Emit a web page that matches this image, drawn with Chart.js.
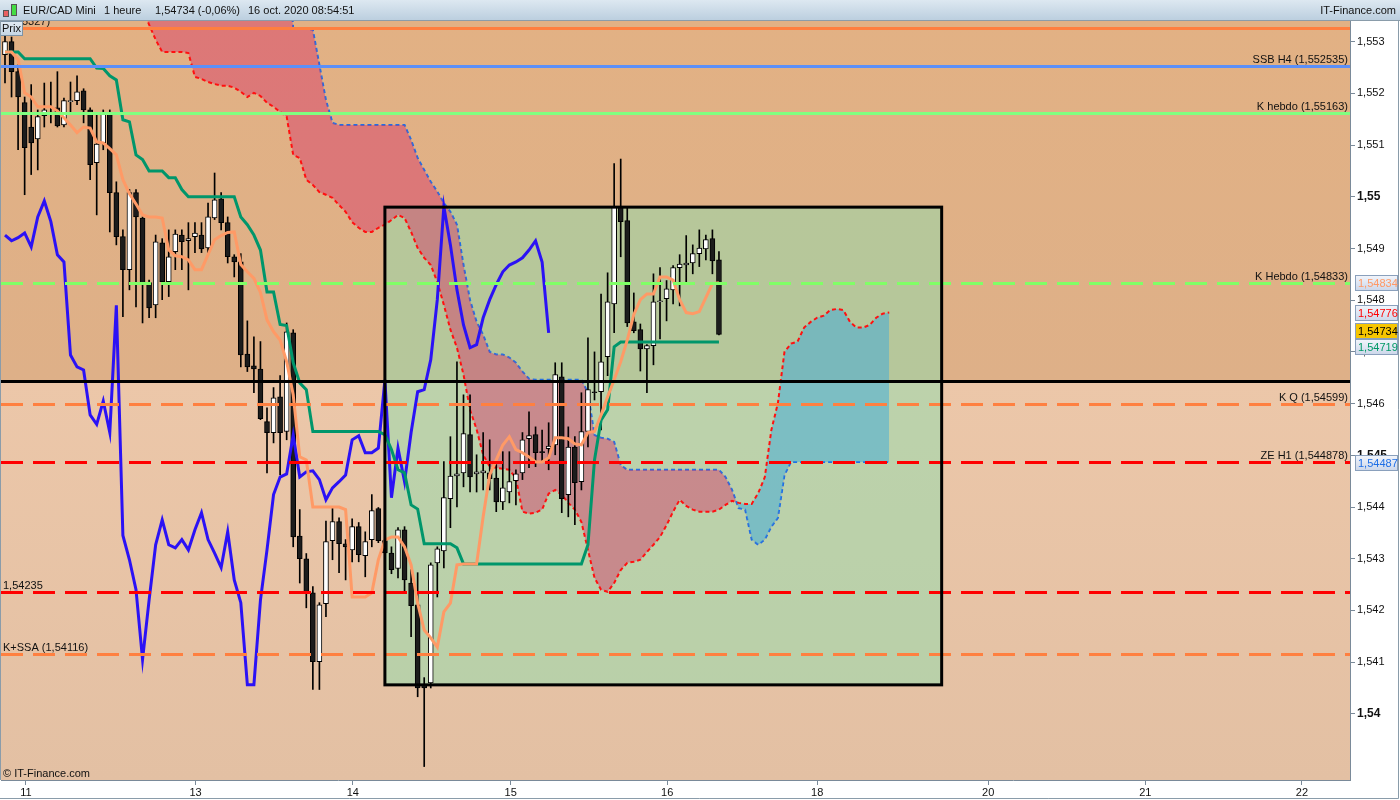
<!DOCTYPE html>
<html>
<head>
<meta charset="utf-8">
<title>EUR/CAD Mini 1 heure</title>
<script src="https://cdn.jsdelivr.net/npm/chart.js@4.4.0/dist/chart.umd.min.js"></script>
<style>
  html, body { margin: 0; padding: 0; background: #fff; }
  #wrap { width: 1400px; height: 800px; }
</style>
</head>
<body>
<div id="wrap"><canvas id="graphe" width="1400" height="800"></canvas></div>
<script>
// bougies horaires, index 0 = 11 oct. soir, index 109 = 16 oct. 08h
const opens = [
  1.55275, 1.55300, 1.55242, 1.55182, 1.55135, 1.55112, 1.55157, 1.55164, 1.55172, 1.55139,
  1.55184, 1.55186, 1.55205, 1.55168, 1.55066, 1.55104, 1.55162, 1.55008, 1.54923, 1.54859,
  1.55008, 1.54959, 1.54834, 1.54791, 1.54911, 1.54836, 1.54894, 1.54926, 1.54915, 1.54923,
  1.54926, 1.54901, 1.54959, 1.54996, 1.54950, 1.54884, 1.54874, 1.54696, 1.54673, 1.54667,
  1.54565, 1.54544, 1.54613, 1.54546, 1.54737, 1.54344, 1.54300, 1.54234, 1.54101, 1.54213,
  1.54335, 1.54372, 1.54329, 1.54317, 1.54362, 1.54306, 1.54337, 1.54397, 1.54335, 1.54311,
  1.54281, 1.54356, 1.54253, 1.54211, 1.54056, 1.54060, 1.54292, 1.54315, 1.54416, 1.54460,
  1.54466, 1.54540, 1.54464, 1.54466, 1.54466, 1.54456, 1.54410, 1.54429, 1.54451, 1.54466,
  1.54532, 1.54540, 1.54507, 1.54513, 1.54520, 1.54652, 1.54424, 1.54516, 1.54449, 1.54546,
  1.54623, 1.54623, 1.54691, 1.54793, 1.54981, 1.54954, 1.54758, 1.54743, 1.54706, 1.54712,
  1.54797, 1.54803, 1.54820, 1.54863, 1.54868, 1.54872, 1.54890, 1.54899, 1.54919, 1.54878
];
const highs = [
  1.55317, 1.55309, 1.55255, 1.55193, 1.55217, 1.55168, 1.55220, 1.55222, 1.55242, 1.55191,
  1.55222, 1.55234, 1.55209, 1.55172, 1.55162, 1.55168, 1.55168, 1.55029, 1.54936, 1.55014,
  1.55014, 1.54961, 1.54839, 1.54926, 1.54919, 1.54936, 1.54936, 1.54936, 1.54950, 1.54950,
  1.54950, 1.54988, 1.55046, 1.55008, 1.54961, 1.54888, 1.54890, 1.54760, 1.54729, 1.54720,
  1.54592, 1.54631, 1.54654, 1.54756, 1.54743, 1.54395, 1.54310, 1.54246, 1.54215, 1.54373,
  1.54399, 1.54379, 1.54337, 1.54377, 1.54370, 1.54352, 1.54424, 1.54399, 1.54344, 1.54323,
  1.54360, 1.54362, 1.54279, 1.54273, 1.54070, 1.54292, 1.54323, 1.54488, 1.54536, 1.54681,
  1.54617, 1.54617, 1.54501, 1.54544, 1.54530, 1.54482, 1.54507, 1.54507, 1.54472, 1.54544,
  1.54584, 1.54555, 1.54549, 1.54563, 1.54679, 1.54679, 1.54555, 1.54536, 1.54621, 1.54727,
  1.54700, 1.54812, 1.54853, 1.55064, 1.55073, 1.54979, 1.54814, 1.54754, 1.54714, 1.54851,
  1.54863, 1.54838, 1.54867, 1.54888, 1.54925, 1.54907, 1.54936, 1.54926, 1.54936, 1.54894
];
const lows = [
  1.55220, 1.55193, 1.55091, 1.55004, 1.55043, 1.55052, 1.55135, 1.55143, 1.55135, 1.55135,
  1.55162, 1.55178, 1.55143, 1.55033, 1.54965, 1.55091, 1.54932, 1.54907, 1.54768, 1.54820,
  1.54787, 1.54756, 1.54766, 1.54766, 1.54801, 1.54807, 1.54859, 1.54859, 1.54820, 1.54892,
  1.54892, 1.54892, 1.54956, 1.54936, 1.54872, 1.54845, 1.54671, 1.54662, 1.54621, 1.54569,
  1.54466, 1.54524, 1.54462, 1.54530, 1.54323, 1.54253, 1.54205, 1.54047, 1.54047, 1.54188,
  1.54298, 1.54273, 1.54259, 1.54294, 1.54294, 1.54265, 1.54323, 1.54331, 1.54306, 1.54271,
  1.54263, 1.54234, 1.54149, 1.54033, 1.53898, 1.54050, 1.54226, 1.54282, 1.54360, 1.54400,
  1.54439, 1.54429, 1.54429, 1.54433, 1.54433, 1.54391, 1.54395, 1.54408, 1.54404, 1.54453,
  1.54476, 1.54478, 1.54486, 1.54472, 1.54501, 1.54389, 1.54381, 1.54366, 1.54433, 1.54516,
  1.54607, 1.54549, 1.54654, 1.54737, 1.54884, 1.54749, 1.54737, 1.54663, 1.54621, 1.54675,
  1.54725, 1.54760, 1.54793, 1.54789, 1.54834, 1.54851, 1.54865, 1.54878, 1.54851, 1.54733
];
const closes = [
  1.55300, 1.55242, 1.55193, 1.55095, 1.55104, 1.55155, 1.55168, 1.55161, 1.55137, 1.55186,
  1.55186, 1.55203, 1.55168, 1.55062, 1.55102, 1.55161, 1.55008, 1.54923, 1.54859, 1.55008,
  1.54961, 1.54834, 1.54785, 1.54913, 1.54836, 1.54884, 1.54928, 1.54913, 1.54919, 1.54930,
  1.54899, 1.54961, 1.54994, 1.54950, 1.54884, 1.54874, 1.54694, 1.54671, 1.54667, 1.54571,
  1.54544, 1.54611, 1.54544, 1.54739, 1.54342, 1.54300, 1.54234, 1.54101, 1.54211, 1.54333,
  1.54372, 1.54329, 1.54323, 1.54362, 1.54308, 1.54333, 1.54393, 1.54335, 1.54311, 1.54279,
  1.54356, 1.54259, 1.54209, 1.54050, 1.54050, 1.54288, 1.54319, 1.54418, 1.54460, 1.54464,
  1.54542, 1.54458, 1.54468, 1.54470, 1.54455, 1.54410, 1.54437, 1.54449, 1.54464, 1.54530,
  1.54538, 1.54505, 1.54505, 1.54518, 1.54656, 1.54416, 1.54516, 1.54447, 1.54546, 1.54627,
  1.54621, 1.54681, 1.54797, 1.54981, 1.54952, 1.54756, 1.54741, 1.54706, 1.54712, 1.54797,
  1.54797, 1.54822, 1.54863, 1.54870, 1.54872, 1.54890, 1.54901, 1.54917, 1.54876, 1.54734
];

// Ichimoku
const kijun = [
  1.55280, 1.55280, 1.55280, 1.55267, 1.55267, 1.55267, 1.55267, 1.55267, 1.55267, 1.55267,
  1.55267, 1.55267, 1.55267, 1.55267, 1.55249, 1.55248, 1.55234, 1.55226, 1.55149, 1.55145,
  1.55081, 1.55072, 1.55050, 1.55050, 1.55050, 1.55037, 1.55037, 1.55014, 1.55000, 1.55000,
  1.55000, 1.55000, 1.55000, 1.55000, 1.55000, 1.55000, 1.54961, 1.54946, 1.54926, 1.54897,
  1.54816, 1.54816, 1.54753, 1.54751, 1.54679, 1.54640, 1.54627, 1.54546, 1.54546, 1.54546,
  1.54546, 1.54546, 1.54546, 1.54546, 1.54546, 1.54546, 1.54546, 1.54546, 1.54540, 1.54511,
  1.54472, 1.54466, 1.54404, 1.54396, 1.54329, 1.54329, 1.54329, 1.54329, 1.54329, 1.54321,
  1.54290, 1.54290, 1.54290, 1.54290, 1.54290, 1.54290, 1.54290, 1.54290, 1.54290, 1.54290,
  1.54290, 1.54290, 1.54290, 1.54290, 1.54290, 1.54290, 1.54290, 1.54290, 1.54290, 1.54327,
  1.54491, 1.54568, 1.54588, 1.54710, 1.54719, 1.54719, 1.54719, 1.54719, 1.54719, 1.54719,
  1.54719, 1.54719, 1.54719, 1.54719, 1.54719, 1.54719, 1.54719, 1.54719, 1.54719, 1.54719
];
const tenkan = [
  1.55280, 1.55280, 1.55265, 1.55201, 1.55193, 1.55174, 1.55174, 1.55174, 1.55166, 1.55153,
  1.55139, 1.55124, 1.55135, 1.55133, 1.55106, 1.55104, 1.55093, 1.55081, 1.55033, 1.55006,
  1.54986, 1.54965, 1.54961, 1.54961, 1.54959, 1.54897, 1.54886, 1.54884, 1.54878, 1.54859,
  1.54859, 1.54888, 1.54917, 1.54925, 1.54931, 1.54932, 1.54869, 1.54855, 1.54842, 1.54815,
  1.54762, 1.54739, 1.54723, 1.54681, 1.54617, 1.54497, 1.54491, 1.54400, 1.54400, 1.54400,
  1.54400, 1.54400, 1.54395, 1.54226, 1.54226, 1.54226, 1.54234, 1.54298, 1.54336, 1.54342,
  1.54342, 1.54323, 1.54288, 1.54214, 1.54162, 1.54147, 1.54129, 1.54197, 1.54214, 1.54288,
  1.54290, 1.54290, 1.54290, 1.54381, 1.54462, 1.54491, 1.54520, 1.54536, 1.54511, 1.54505,
  1.54497, 1.54487, 1.54487, 1.54495, 1.54534, 1.54534, 1.54532, 1.54522, 1.54520, 1.54544,
  1.54546, 1.54578, 1.54613, 1.54646, 1.54681, 1.54723, 1.54772, 1.54801, 1.54812, 1.54812,
  1.54845, 1.54845, 1.54839, 1.54801, 1.54776, 1.54774, 1.54778, 1.54805, 1.54832, 1.54834
];
const chikou = [
  1.54926, 1.54915, 1.54921, 1.54930, 1.54903, 1.54961, 1.54992, 1.54952, 1.54888, 1.54874,
  1.54694, 1.54671, 1.54665, 1.54578, 1.54560, 1.54605, 1.54544, 1.54790, 1.54345, 1.54298,
  1.54240, 1.54105, 1.54220, 1.54327, 1.54375, 1.54327, 1.54321, 1.54337, 1.54317, 1.54356,
  1.54389, 1.54337, 1.54311, 1.54283, 1.54352, 1.54259, 1.54215, 1.54056, 1.54056, 1.54220,
  1.54317, 1.54424, 1.54458, 1.54464, 1.54539, 1.54458, 1.54468, 1.54470, 1.54453, 1.54414,
  1.54437, 1.54449, 1.54462, 1.54530, 1.54538, 1.54505, 1.54505, 1.54514, 1.54646, 1.54418,
  1.54514, 1.54449, 1.54544, 1.54623, 1.54627, 1.54685, 1.54801, 1.54981, 1.54907, 1.54820,
  1.54752, 1.54708, 1.54714, 1.54766, 1.54801, 1.54830, 1.54855, 1.54868, 1.54874, 1.54882,
  1.54897, 1.54915, 1.54874, 1.54737
];
// nuage : commence a l'index 21, projete jusqu'a l'index 135
const cloudStart = 21;
const ssa = [
  1.55362, 1.55333, 1.55304, 1.55280, 1.55280, 1.55280, 1.55280, 1.55278, 1.55232, 1.55228,
  1.55222, 1.55218, 1.55215, 1.55215, 1.55211, 1.55203, 1.55193, 1.55201, 1.55195, 1.55182,
  1.55174, 1.55164, 1.55155, 1.55081, 1.55075, 1.55033, 1.55023, 1.55009, 1.55004, 1.54998,
  1.54984, 1.54971, 1.54951, 1.54940, 1.54932, 1.54932, 1.54940, 1.54946, 1.54955, 1.54965,
  1.54959, 1.54932, 1.54901, 1.54882, 1.54868, 1.54835, 1.54791, 1.54743, 1.54708, 1.54656,
  1.54588, 1.54550, 1.54501, 1.54478, 1.54476, 1.54474, 1.54472, 1.54456, 1.54391, 1.54387,
  1.54389, 1.54395, 1.54426, 1.54433, 1.54424, 1.54408, 1.54395, 1.54371, 1.54317, 1.54263,
  1.54240, 1.54236, 1.54253, 1.54278, 1.54292, 1.54294, 1.54298, 1.54313, 1.54327, 1.54342,
  1.54365, 1.54391, 1.54414, 1.54402, 1.54395, 1.54391, 1.54391, 1.54391, 1.54395, 1.54404,
  1.54412, 1.54408, 1.54406, 1.54406, 1.54427, 1.54458, 1.54549, 1.54601, 1.54700, 1.54716,
  1.54720, 1.54747, 1.54758, 1.54766, 1.54770, 1.54781, 1.54783, 1.54781, 1.54758, 1.54747,
  1.54747, 1.54752, 1.54766, 1.54774, 1.54776
];
const ssb = [
  1.55500, 1.55500, 1.55500, 1.55500, 1.55500, 1.55500, 1.55500, 1.55500, 1.55500, 1.55500,
  1.55500, 1.55500, 1.55500, 1.55500, 1.55500, 1.55500, 1.55500, 1.55500, 1.55500, 1.55500,
  1.55500, 1.55500, 1.55500, 1.55325, 1.55325, 1.55325, 1.55323, 1.55255, 1.55187, 1.55143,
  1.55139, 1.55139, 1.55139, 1.55139, 1.55139, 1.55139, 1.55139, 1.55139, 1.55139, 1.55139,
  1.55139, 1.55110, 1.55075, 1.55052, 1.55029, 1.55010, 1.54988, 1.54971, 1.54946, 1.54868,
  1.54800, 1.54758, 1.54733, 1.54700, 1.54695, 1.54695, 1.54689, 1.54679, 1.54662, 1.54648,
  1.54646, 1.54646, 1.54646, 1.54646, 1.54646, 1.54646, 1.54646, 1.54646, 1.54621, 1.54539,
  1.54534, 1.54532, 1.54526, 1.54481, 1.54472, 1.54472, 1.54472, 1.54472, 1.54472, 1.54472,
  1.54472, 1.54472, 1.54472, 1.54472, 1.54472, 1.54472, 1.54472, 1.54472, 1.54472, 1.54458,
  1.54433, 1.54398, 1.54395, 1.54337, 1.54327, 1.54337, 1.54362, 1.54379, 1.54462, 1.54487,
  1.54487, 1.54487, 1.54487, 1.54487, 1.54487, 1.54487, 1.54487, 1.54487, 1.54487, 1.54487,
  1.54487, 1.54487, 1.54487, 1.54487, 1.54487
];

// axes
const dayTicks = [3.2, 29.1, 53.1, 77.2, 101.1, 124, 150.1, 174.1, 198];
const dayLabels = ['11', '13', '14', '15', '16', '18', '20', '21', '22'];
const priceTicks = [1.540, 1.541, 1.542, 1.543, 1.544, 1.545, 1.546, 1.547, 1.548, 1.549, 1.550, 1.551, 1.552, 1.553];

// niveaux horizontaux
const levelValues = [1.55327, 1.552535, 1.55163, 1.54833, 1.54644, 1.54599, 1.544878, 1.54235, 1.54116];
const levelNames = ['(1,55327)', 'SSB H4 (1,552535)', 'K hebdo (1,55163)', 'K Hebdo (1,54833)', '', 'K Q (1,54599)', 'ZE H1 (1,544878)', '1,54235', 'K+SSA (1,54116)'];
const levelColors = ['#ff7f3f', '#5b8ff9', '#80ff80', '#80ff66', '#000000', '#ff8040', '#ff0000', '#ff0000', '#ff8040'];
const levelDashed = [false, false, false, true, false, true, true, true, true];
const levelLeft = [true, false, false, false, false, false, false, true, true];
const splitLevel = 1.54644;

// rectangle de zone
const boxX = [58, 143];
const boxY = [1.54056, 1.5498];

// etiquettes de prix a droite
const tagValues = [1.54834, 1.54776, 1.54734, 1.54719, 1.54487];
const tagColors = ['#ff9966', '#ff0000', '#000000', '#009966', '#1e6fe6'];

const xMin = -0.61, xMax = 205.34;
const yMin = 1.53872, yMax = 1.5534;
const police = '"Liberation Sans", Arial, sans-serif';

function pts(arr, start) {
  return arr.map((v, i) => ({ x: start + i, y: v }));
}
function virgule(v, d) {
  return v.toFixed(d).replace('.', ',');
}

const bodies = opens.map((o, i) => ({ x: i, y: [o, closes[i]] }));
const wicks = lows.map((l, i) => ({ x: i, y: [l, highs[i]] }));
const bodyColors = opens.map((o, i) => closes[i] >= o ? '#ffffff' : '#1c1c1c');

const decor = {
  id: 'decor',
  beforeDraw(chart) {
    const c = chart.ctx;
    c.save();
    c.fillStyle = '#ffffff';
    c.fillRect(0, 0, chart.width, chart.height);
    c.restore();
  },
  beforeDatasetsDraw(chart) {
    const c = chart.ctx, a = chart.chartArea, x = chart.scales.x, y = chart.scales.y;
    c.save();
    const ys = y.getPixelForValue(splitLevel);
    let g = c.createLinearGradient(0, a.top, 0, ys);
    g.addColorStop(0, '#e2b184');
    g.addColorStop(1, '#deb088');
    c.fillStyle = g;
    c.fillRect(a.left, a.top, a.right - a.left, ys - a.top);
    g = c.createLinearGradient(0, ys, 0, a.bottom);
    g.addColorStop(0, '#ecc7a9');
    g.addColorStop(1, '#e3c0a3');
    c.fillStyle = g;
    c.fillRect(a.left, ys, a.right - a.left, a.bottom - ys);

    const x0 = x.getPixelForValue(boxX[0]), x1 = x.getPixelForValue(boxX[1]);
    const y0 = y.getPixelForValue(boxY[1]), y1 = y.getPixelForValue(boxY[0]);
    c.fillStyle = 'rgba(141,222,173,0.5)';
    c.fillRect(x0, y0, x1 - x0, y1 - y0);
    c.restore();
  },
  afterDatasetsDraw(chart) {
    const c = chart.ctx, a = chart.chartArea, x = chart.scales.x, y = chart.scales.y;
    c.save();
    c.beginPath();
    c.rect(a.left, a.top, a.right - a.left, a.bottom - a.top);
    c.clip();

    for (let k = 0; k < levelValues.length; k++) {
      const py = Math.round(y.getPixelForValue(levelValues[k])) + 0.5;
      c.strokeStyle = levelColors[k];
      c.lineWidth = 3;
      c.setLineDash(levelDashed[k] ? [22, 10] : []);
      c.beginPath();
      c.moveTo(a.left, py);
      c.lineTo(a.right, py);
      c.stroke();
    }
    c.setLineDash([]);

    // bordure du rectangle
    const x0 = x.getPixelForValue(boxX[0]), x1 = x.getPixelForValue(boxX[1]);
    const y0 = y.getPixelForValue(boxY[1]), y1 = y.getPixelForValue(boxY[0]);
    c.strokeStyle = '#000';
    c.lineWidth = 3;
    c.strokeRect(x0, y0, x1 - x0, y1 - y0);

    c.font = '11px ' + police;
    c.fillStyle = '#111';
    c.textBaseline = 'alphabetic';
    for (let k = 0; k < levelValues.length; k++) {
      if (!levelNames[k]) continue;
      const py = y.getPixelForValue(levelValues[k]) - 3;
      if (levelLeft[k]) {
        c.textAlign = 'left';
        c.fillText(levelNames[k], a.left + 2, py);
      } else {
        c.textAlign = 'right';
        c.fillText(levelNames[k], a.right - 2, py);
      }
    }
    c.textAlign = 'left';
    c.fillText('\u00a9 IT-Finance.com', a.left + 2, a.bottom - 3);
    c.restore();
  },
  afterDraw(chart) {
    const c = chart.ctx, a = chart.chartArea, y = chart.scales.y;
    c.save();
    // bandeau du haut
    let g = c.createLinearGradient(0, 0, 0, 20);
    g.addColorStop(0, '#dde8f1');
    g.addColorStop(1, '#bccfdf');
    c.fillStyle = g;
    c.fillRect(0, 0, chart.width, 20);
    c.strokeStyle = '#8a9caa';
    c.lineWidth = 1;
    c.beginPath();
    c.moveTo(0, 20.5); c.lineTo(chart.width, 20.5);
    c.stroke();
    // petite icone
    c.fillStyle = '#e86060'; c.strokeStyle = '#555';
    c.fillRect(3.5, 10.5, 5, 6); c.strokeRect(3.5, 10.5, 5, 6);
    c.fillStyle = '#44dd44';
    c.fillRect(11.5, 4.5, 5, 11); c.strokeRect(11.5, 4.5, 5, 11);
    c.fillStyle = '#111';
    c.font = '11px ' + police;
    c.textBaseline = 'middle';
    c.textAlign = 'left';
    c.fillText('EUR/CAD Mini', 23, 11);
    c.fillText('1 heure', 104, 11);
    c.fillText('1,54734 (-0,06%)', 155, 11);
    c.fillText('16 oct. 2020 08:54:51', 248, 11);
    c.textAlign = 'right';
    c.fillText('IT-Finance.com', chart.width - 4, 11);

    // "Prix"
    g = c.createLinearGradient(0, 21, 0, 36);
    g.addColorStop(0, '#e3ecf4');
    g.addColorStop(1, '#c3d4e3');
    c.fillStyle = g;
    c.fillRect(0.5, 21.5, 22, 14);
    c.strokeStyle = '#7d93a6';
    c.strokeRect(0.5, 21.5, 22, 14);
    c.fillStyle = '#111';
    c.font = '11px ' + police;
    c.textAlign = 'left';
    c.fillText('Prix', 2, 29);

    // etiquettes de prix, ecartees si elles se chevauchent
    const h = 15;
    const pos = tagValues.map(v => y.getPixelForValue(v));
    for (let n = 0; n < 20; n++) {
      for (let k = 1; k < pos.length; k++) {
        const d = pos[k] - pos[k - 1];
        if (d < h + 1) {
          const m = (h + 1 - d) / 2;
          pos[k - 1] -= m;
          pos[k] += m;
        }
      }
    }
    for (let k = 0; k < tagValues.length; k++) {
      const top = Math.round(pos[k] - h / 2) + 0.5;
      if (k === 2) {
        c.fillStyle = '#f7c600';
      } else {
        g = c.createLinearGradient(0, top, 0, top + h);
        g.addColorStop(0, '#f2f5fb');
        g.addColorStop(1, '#ccd7ea');
        c.fillStyle = g;
      }
      c.fillRect(a.right + 5.5, top, 42, h);
      c.strokeStyle = '#8aa0bc';
      c.strokeRect(a.right + 5.5, top, 42, h);
      c.fillStyle = tagColors[k];
      c.font = '11px ' + police;
      c.textBaseline = 'middle';
      c.textAlign = 'left';
      c.fillText(virgule(tagValues[k], 5), a.right + 8, top + h / 2 + 0.5);
    }

    // cadre
    c.strokeStyle = '#8a9caa';
    c.beginPath();
    c.moveTo(0.5, 20); c.lineTo(0.5, a.bottom);
    c.moveTo(chart.width - 1.5, 20); c.lineTo(chart.width - 1.5, chart.height - 1.5);
    c.lineTo(0, chart.height - 1.5);
    c.stroke();
    c.restore();
  }
};

const lineBase = { type: 'line', pointRadius: 0, tension: 0, fill: false, clip: 0 };

const datasets = [
  Object.assign({}, lineBase, {
    label: 'SSB', data: pts(ssb, cloudStart), borderColor: '#1f6fe5', borderWidth: 2,
    borderDash: [4, 3], order: 6
  }),
  Object.assign({}, lineBase, {
    label: 'SSA', data: pts(ssa, cloudStart), borderColor: '#ff1010', borderWidth: 2,
    borderDash: [4, 3], order: 5,
    fill: { target: 0, above: 'rgba(60,170,220,0.5)', below: 'rgba(214,52,105,0.45)' }
  }),
  {
    type: 'bar', label: 'meches', data: wicks, backgroundColor: '#000000',
    barThickness: 1, grouped: false, borderWidth: 0, order: 4, clip: 0
  },
  {
    type: 'bar', label: 'corps', data: bodies, backgroundColor: bodyColors,
    borderColor: '#000000', borderWidth: 1, borderSkipped: false,
    barThickness: 5, minBarLength: 1, grouped: false, order: 3, clip: 0
  },
  Object.assign({}, lineBase, {
    label: 'Chikou', data: pts(chikou, 0), borderColor: '#2b12f5', borderWidth: 3, order: 2
  }),
  Object.assign({}, lineBase, {
    label: 'Kijun', data: pts(kijun, 0), borderColor: '#00966b', borderWidth: 3, order: 1
  }),
  Object.assign({}, lineBase, {
    label: 'Tenkan', data: pts(tenkan, 0), borderColor: '#ff9a66', borderWidth: 3, order: 0
  })
];

new Chart(document.getElementById('graphe').getContext('2d'), {
  type: 'line',
  data: { datasets: datasets },
  options: {
    responsive: false,
    devicePixelRatio: 1,
    animation: false,
    events: [],
    layout: { padding: { top: 21, left: 1, right: 0, bottom: 0 } },
    plugins: { legend: { display: false }, tooltip: { enabled: false } },
    scales: {
      x: {
        type: 'linear', min: xMin, max: xMax, offset: false,
        afterBuildTicks: s => { s.ticks = dayTicks.map(v => ({ value: v })); },
        afterFit: s => { s.height = 20; },
        ticks: {
          autoSkip: false, maxRotation: 0, padding: 1, color: '#111',
          font: { family: police, size: 11 },
          callback: (v, i) => dayLabels[i]
        },
        grid: { offset: false, drawOnChartArea: false, drawTicks: true, tickLength: 5, color: '#7a8a99' },
        border: { display: true, color: '#7a8a99' }
      },
      y: {
        type: 'linear', position: 'right', min: yMin, max: yMax,
        afterBuildTicks: s => { s.ticks = priceTicks.map(v => ({ value: v })); },
        afterFit: s => { s.width = 50; },
        ticks: {
          padding: 2, color: '#111',
          font: ctx => {
            const v = ctx.tick ? ctx.tick.value : 0;
            const gras = Math.abs(v * 200 - Math.round(v * 200)) < 1e-6;
            return { family: police, size: gras ? 12 : 11, weight: gras ? 'bold' : 'normal' };
          },
          callback: v => virgule(v, 3).replace(/0+$/, '').replace(/,$/, '')
        },
        grid: { offset: false, drawOnChartArea: false, drawTicks: true, tickLength: 5, color: '#7a8a99' },
        border: { display: true, color: '#7a8a99' }
      }
    }
  },
  plugins: [decor]
});
</script>
</body>
</html>
